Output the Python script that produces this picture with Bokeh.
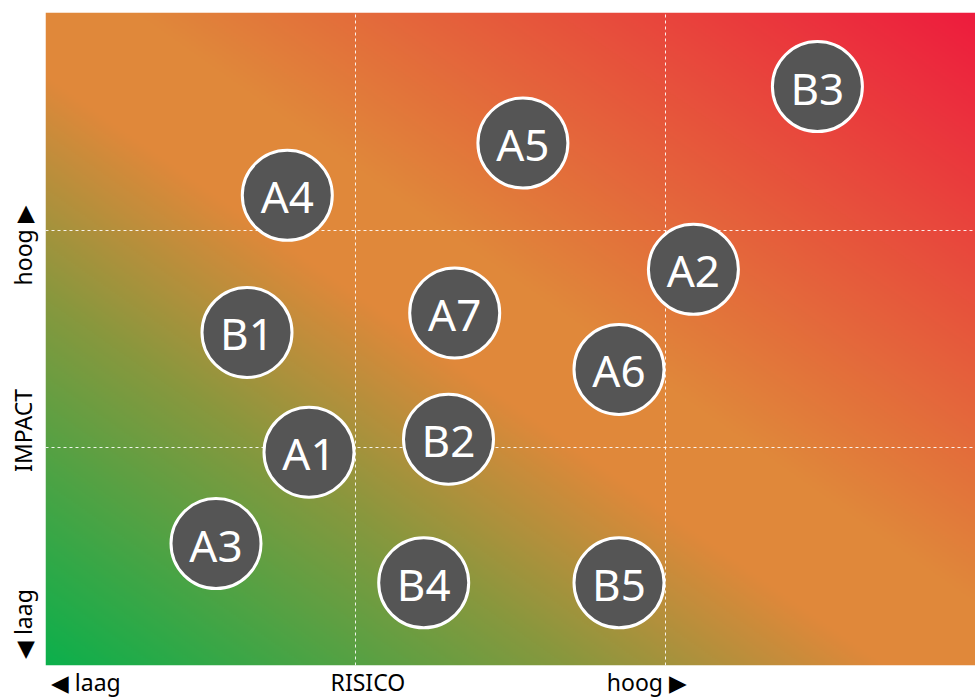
import numpy as np
from bokeh.plotting import figure
from bokeh.models import Range1d, FixedTicker
from bokeh.core.properties import value
from bokeh.embed import file_html
from bokeh.resources import INLINE

# ---- data ----
labels = ["B3", "A5", "A4", "A2", "B1", "A7", "A6", "A1", "B2", "A3", "B4", "B5"]
risico = [2.49, 1.54, 0.78, 2.09, 0.65, 1.32, 1.85, 0.85, 1.30, 0.55, 1.22, 1.85]
impact = [2.66, 2.40, 2.16, 1.82, 1.53, 1.62, 1.36, 0.98, 1.04, 0.56, 0.38, 0.38]

x_axis_labels = ["◀ laag", "RISICO", "hoog ▶"]
y_axis_labels = ["◀ laag", "IMPACT", "hoog ▶"]
x_label_pos = [0.13, 1.04, 1.94]
y_label_pos = [0.19, 1.08, 1.93]
grid_pos = [1, 2]

# gradient stops (position, rgb)
grad_stops = [0.0, 0.28, 0.45, 0.55, 1.0]
grad_colors = [(12, 176, 76), (135, 152, 62), (224, 136, 58), (224, 136, 58), (238, 28, 62)]

p = figure(width=975, height=700, output_backend="svg", toolbar_location=None,
           x_range=Range1d(0, 3), y_range=Range1d(0, 3),
           min_border_left=45, min_border_right=0, min_border_top=12, min_border_bottom=35)
p.outline_line_color = None
p.background_fill_color = "white"
p.border_fill_color = "white"

# background gradient (bottom-left green -> orange -> top-right red)
n = 400
u = np.linspace(0, 1, n)
U, V = np.meshgrid(u, u)
t = (U + V) / 2.0
img = np.zeros((n, n), dtype=np.uint32)
view = img.view(dtype=np.uint8).reshape((n, n, 4))
for c in range(3):
    view[:, :, c] = np.interp(t, grad_stops, [col[c] for col in grad_colors]).astype(np.uint8)
view[:, :, 3] = 255
r_img = p.image_rgba(image=[img], x=0, y=0, dw=3, dh=3)
r_img.level = "image"

# grid
for g in (p.xgrid, p.ygrid):
    g.ticker = FixedTicker(ticks=grid_pos)
    g.grid_line_color = "white"
    g.grid_line_dash = "3 3"
    g.grid_line_alpha = 0.9
    g.grid_line_width = 1
    g.level = "underlay"

# bubbles
p.scatter(x=risico, y=impact, size=90, fill_color="#555555", line_color="white", line_width=3)
p.text(x=risico, y=impact, text=labels, text_align="center", text_baseline="middle",
       text_color="white", text_font_size="44px", text_font=value("Noto Sans"), y_offset=1)

# axes
p.xaxis.ticker = FixedTicker(ticks=x_label_pos)
p.xaxis.major_label_overrides = {k: v for k, v in zip(x_label_pos, x_axis_labels)}
p.yaxis.ticker = FixedTicker(ticks=y_label_pos)
p.yaxis.major_label_overrides = {k: v for k, v in zip(y_label_pos, y_axis_labels)}
p.yaxis.major_label_orientation = "vertical"
for ax in (p.xaxis, p.yaxis):
    ax.axis_line_color = None
    ax.major_tick_line_color = None
    ax.minor_tick_line_color = None
    ax.major_tick_out = 0
    ax.major_tick_in = 0
    ax.minor_tick_out = 0
    ax.minor_tick_in = 0
    ax.major_label_text_font = "Noto Sans"
    ax.major_label_text_font_size = "23px"
    ax.major_label_text_color = "black"
p.xaxis.major_label_standoff = 0
p.yaxis.major_label_standoff = 6

open("out.html", "w").write(file_html(p, INLINE))
